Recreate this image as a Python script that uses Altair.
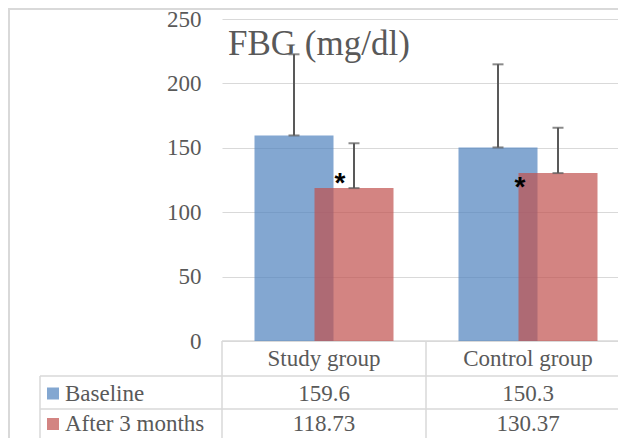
import altair as alt
import pandas as pd

# ---- data ----
groups = ["Study group", "Control group"]
series = ["Baseline", "After 3 months"]
baseline = [159.6, 150.3]
after_3m = [118.73, 130.37]
baseline_sd = [63.0, 64.5]
after_sd = [34.8, 35.2]
colors = ["#4F81BD", "#C0504D"]
title_text = "FBG (mg/dl)"
y_ticks = [0, 50, 100, 150, 200, 250]

rows = []
for s, vals, sds in [(series[0], baseline, baseline_sd), (series[1], after_3m, after_sd)]:
    for g, v, sd in zip(groups, vals, sds):
        rows.append({"group": g, "series": s, "value": v, "sd": sd, "label": str(v)})
df = pd.DataFrame(rows)
one = pd.DataFrame({"k": [0]})

W, H = 396, 322          # plot area; page is 610x430 inside the 8px margin
BAND = 204               # category band width (plot continues past the page edge)
GRID = "#d9d9d9"
TXT = "#595959"
SERIF = "Liberation Serif"
FS = 23

x_enc = alt.X(
    "group:N", sort=groups,
    scale=alt.Scale(range=[0, 2 * BAND], paddingInner=0, paddingOuter=0),
    axis=alt.Axis(title=None, domain=False, ticks=False, tickSize=0, labelPadding=17,
                  labelBaseline="middle", labelFont=SERIF, labelFontSize=FS,
                  labelColor=TXT, labelAngle=0),
)
x_plain = alt.X("group:N", sort=groups)
xo = alt.XOffset("series:N", sort=series,
                 scale=alt.Scale(range=[42, 162], paddingInner=0, paddingOuter=0))
y_enc = alt.Y(
    "value:Q",
    scale=alt.Scale(domain=[0, 250], nice=False),
    axis=alt.Axis(title=None, values=y_ticks, domain=False, ticks=False, tickSize=0,
                  labelPadding=21, labelFont=SERIF, labelFontSize=FS, labelColor=TXT,
                  grid=True, gridColor=GRID, gridWidth=1),
)
color = alt.Color("series:N", scale=alt.Scale(domain=series, range=colors), legend=None)

base = alt.Chart(df)

bars = base.mark_bar(width=79, opacity=0.7).encode(x=x_enc, xOffset=xo, y=y_enc, color=color)

err = base.transform_calculate(top="datum.value + datum.sd")
whisk = err.mark_rule(color=TXT, strokeWidth=2).encode(
    x=x_plain, xOffset=xo, y="value:Q", y2="top:Q")
cap_lo = err.mark_tick(color=TXT, size=11, thickness=2).encode(
    x=x_plain, xOffset=xo, y="value:Q")
cap_hi = err.mark_tick(color=TXT, size=11, thickness=2).encode(
    x=x_plain, xOffset=xo, y="top:Q")

def star(group, dx, dy):
    return base.transform_filter(
        (alt.datum.series == series[1]) & (alt.datum.group == group)
    ).mark_text(text="*", font="Liberation Sans", fontSize=28, fontWeight="bold",
                color="black", dx=dx, dy=dy, baseline="alphabetic").encode(
        x=x_plain, xOffset=xo, y="value:Q")

star1 = star(groups[0], -14, 4)
star2 = star(groups[1], -38, 23)

title = alt.Chart(one).mark_text(
    text=title_text, font=SERIF, fontSize=35, color=TXT, align="left",
    baseline="alphabetic").encode(x=alt.value(6), y=alt.value(36))

row_base = [382, 412]     # text baselines of the two table rows
row_mid = [374.5, 405]    # centres of the legend keys
table_vals = []
legend_marks = []
for s, rb, rm, c in zip(series, row_base, row_mid, colors):
    table_vals.append(
        base.transform_filter(alt.datum.series == s).mark_text(
            font=SERIF, fontSize=FS, color=TXT, baseline="alphabetic").encode(
            x=x_plain, y=alt.value(rb), text="label:N"))
    legend_marks.append(
        alt.Chart(one).mark_square(size=144, color=c, opacity=0.7).encode(
            x=alt.value(-169), y=alt.value(rm)))
    legend_marks.append(
        alt.Chart(one).mark_text(text=s, font=SERIF, fontSize=FS, color=TXT,
                                 align="left", baseline="alphabetic").encode(
            x=alt.value(-157), y=alt.value(rb)))

def hline(y, x1, x2, w=1.5):
    return alt.Chart(one).mark_rule(color=GRID, strokeWidth=w).encode(
        x=alt.value(x1), x2=alt.value(x2), y=alt.value(y))

def vline(x, y1, y2, w=1.5):
    return alt.Chart(one).mark_rule(color=GRID, strokeWidth=w).encode(
        x=alt.value(x), y=alt.value(y1), y2=alt.value(y2))

BOTTOM = 419
lines = [
    hline(322, 0, W),
    hline(357, -182, W),
    hline(390, -182, W),
    vline(0, 322, BOTTOM),
    vline(BAND, 322, BOTTOM),
    vline(-182, 357, BOTTOM),
    hline(-10, -214, W, 2),
    vline(-213, -11, BOTTOM, 2),
]

chart = alt.layer(
    *lines, bars, whisk, cap_lo, cap_hi, star1, star2, title, *table_vals, *legend_marks
).properties(
    width=W, height=H,
    autosize=alt.AutoSizeParams(type="none"),
    padding={"left": 214, "top": 11, "right": 0, "bottom": 97},
    background="white",
).configure_view(stroke=None)

chart.save("out.html", embed_options={"renderer": "svg", "actions": False})
